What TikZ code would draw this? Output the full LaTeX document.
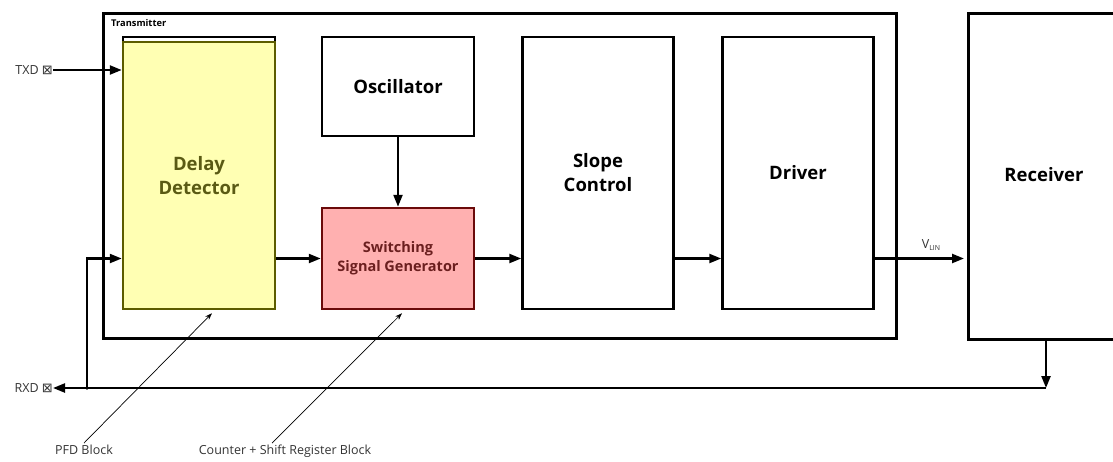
\documentclass[tikz,border=0pt]{standalone}
\usepackage{fontspec}
\setmainfont{Open Sans}
\newfontfamily\symfont{DejaVu Sans}
\usetikzlibrary{arrows.meta,calc}
\definecolor{ddfill}{HTML}{FFFFB3}
\definecolor{dddraw}{HTML}{5C5C00}
\definecolor{ddtext}{HTML}{5A5A14}
\definecolor{ssgfill}{HTML}{FFB0B0}
\definecolor{ssgdraw}{HTML}{6B0A0A}
\definecolor{ssgtext}{HTML}{6B1F1F}
\begin{document}
\begin{tikzpicture}[x=1pt,y=-1pt,
  blk/.style={draw=black, line width=2.5pt, inner sep=0pt, align=center,
    font=\bfseries\fontsize{18.5}{24}\selectfont},
  arr/.style={line width=2.3pt, -{Triangle[length=12pt,width=9pt]}},
  note/.style={line width=0.7pt, -{Stealth[length=7pt,width=5pt]}},
  lbl/.style={inner sep=0pt, font=\fontsize{12.5}{14}\selectfont, text=black!80},
]
\useasboundingbox (0,0) rectangle (1113,461);
% transmitter frame
\node[draw, line width=2.5pt, minimum width=793, minimum height=325, anchor=north west, inner sep=0pt] (tx) at (102,12) {};
\node[anchor=north west, inner sep=0pt, font=\bfseries\fontsize{9.3}{11}\selectfont] (txl) at (111,19) {Transmitter};
% blocks
\draw[line width=2.5pt] (123,43) -- (123,37) -- (275,37) -- (275,43);
\node[blk, fill=ddfill, draw=dddraw, text=ddtext, minimum width=152, minimum height=267] (dd) at (199,175.5) {Delay\\Detector};
\node[blk, minimum width=152, minimum height=99] (osc) at (398,86.5) {Oscillator};
\node[blk, fill=ssgfill, draw=ssgdraw, text=ssgtext, minimum width=152, minimum height=101,
  font=\bfseries\fontsize{14.5}{19}\selectfont] (ssg) at (398,258.5) {Switching\\Signal Generator};
\node[blk, minimum width=151, minimum height=272] (slope) at (598,173) {Slope\\Control};
\node[blk, minimum width=151, minimum height=272] (drv) at (798,173) {Driver};
\node[blk, minimum width=160, minimum height=326, anchor=north west] (rcv) at (967,12) {};
\node[inner sep=0pt, font=\bfseries\fontsize{18.5}{24}\selectfont] (rcvl) at (1044,175) {Receiver};
% pins
\node[lbl, anchor=east] (txd) at (53,70) {TXD {\symfont\fontsize{13}{14}\selectfont⊠}};
\node[lbl, anchor=east] (rxd) at (53,388) {RXD {\symfont\fontsize{13}{14}\selectfont⊠}};
% connectors
\draw[arr] (txd.east) -- (txd.east -| dd.west);
\draw[arr] (osc.south) -- (ssg.north);
\draw[arr] (dd.east |- ssg.west) -- (ssg.west);
\draw[arr] (ssg.east) -- (ssg.east -| slope.west);
\draw[arr] (slope.east |- ssg.east) -- (drv.west |- ssg.east);
\draw[arr, shorten >=3pt] (drv.east |- ssg.east) -- (rcv.west |- ssg.east);
\node[lbl, anchor=south] (vlin) at (931,251) {V{\fontsize{7}{8}\selectfont\raisebox{-2pt}{LIN}}};
\coordinate (rr) at (1046,388);
\coordinate (j) at (87,388);
\draw[arr] (rr |- rcv.south) -- (rr);
\draw[arr] (rr) -- (rxd.east);
\draw[arr] (j) |- (dd.west |- ssg.west);
\fill (j) circle (1.8pt);
% annotations
\node[lbl, anchor=north] (pfd) at (84,445) {PFD Block};
\node[lbl, anchor=north] (cnt) at (285,445) {Counter + Shift Register Block};
\draw[note] ([yshift=2pt]pfd.north) -- ([xshift=13pt,yshift=-3pt]dd.south);
\draw[note] ([xshift=-13pt,yshift=2pt]cnt.north) -- ([xshift=4pt,yshift=-3pt]ssg.south);
\end{tikzpicture}
\end{document}
